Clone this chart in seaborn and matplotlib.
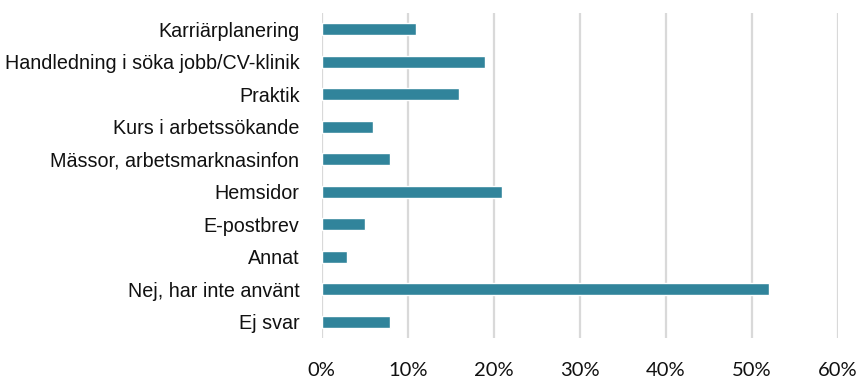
import matplotlib
matplotlib.use("Agg")
import matplotlib.pyplot as plt
import seaborn as sns
import pandas as pd
from matplotlib.ticker import FuncFormatter

categories = [
    "Karriärplanering",
    "Handledning i söka jobb/CV-klinik",
    "Praktik",
    "Kurs i arbetssökande",
    "Mässor, arbetsmarknasinfon",
    "Hemsidor",
    "E-postbrev",
    "Annat",
    "Nej, har inte använt",
    "Ej svar",
]
shares = [11, 19, 16, 6, 8, 21, 5, 3, 52, 8]
x_ticks = [0, 10, 20, 30, 40, 50, 60]

df = pd.DataFrame({"kategori": categories, "andel": shares})

sns.set_theme(style="white")
plt.rcParams["font.family"] = ["Liberation Sans", "DejaVu Sans"]

fig = plt.figure(figsize=(8.61, 3.77), dpi=100)
ax = fig.add_axes([0.3736, 0.1034, 0.5993, 0.862])

sns.barplot(data=df, x="andel", y="kategori", orient="h", color="#31849B",
            saturation=1, width=0.37, ax=ax)

ax.set_xlim(0, 60)
ax.set_xticks(x_ticks)
ax.xaxis.set_major_formatter(FuncFormatter(lambda v, _: f"{v:.0f}%"))
ax.grid(axis="x", color="#d9d9d9", linewidth=1.6)
ax.set_axisbelow(True)
for s in ax.spines.values():
    s.set_visible(False)
ax.set_xlabel("")
ax.set_ylabel("")
ax.tick_params(axis="both", length=0)
ax.tick_params(axis="y", labelsize=14.2, pad=16, labelcolor="#111111")
ax.tick_params(axis="x", labelsize=14.5, pad=17, labelcolor="#111111")
for lbl in ax.get_xticklabels():
    lbl.set_family(["Lato", "DejaVu Sans"])

fig.savefig("out.png", dpi=100)
